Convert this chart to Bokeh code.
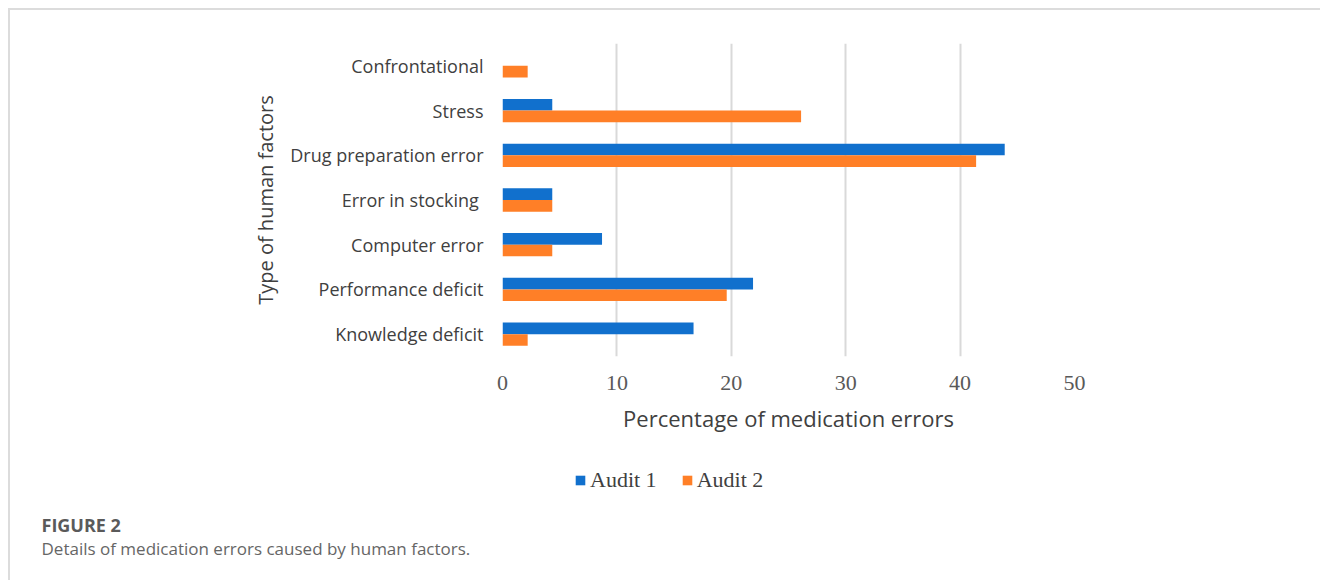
from bokeh.plotting import figure
from bokeh.layouts import column
from bokeh.models import (ColumnDataSource, FactorRange, Range1d, Legend, LegendItem,
                          Label, FixedTicker)
from bokeh.transform import dodge
from bokeh.embed import file_html
from bokeh.resources import INLINE

categories = ["Knowledge deficit", "Performance deficit", "Computer error",
              "Error in stocking ", "Drug preparation error", "Stress", "Confrontational"]
audit1 = [16.7, 21.9, 8.7, 4.35, 43.9, 4.35, 0.0]
audit2 = [2.2, 19.6, 4.35, 4.35, 41.4, 26.1, 2.2]
x_ticks = [0, 10, 20, 30, 40, 50]
series_names = ["Audit 1", "Audit 2"]
caption_head = "FIGURE 2"
caption_text = "Details of medication errors caused by human factors."

BLUE = "#1170CD"
ORANGE = "#FF7F27"
SANS = "Open Sans"
SERIF = "Liberation Serif"

W = 1310
H1 = 440
H2 = 130

src = ColumnDataSource(dict(cat=categories, a1=audit1, a2=audit2))

p = figure(width=W, height=H1, output_backend="svg", toolbar_location=None,
           y_range=FactorRange(*categories), x_range=Range1d(0, 50),
           min_border_left=492, min_border_right=246, min_border_top=33,
           min_border_bottom=94)
p.frame_align = False
p.outline_line_color = None
p.border_fill_color = "white"

r1 = p.hbar(y=dodge("cat", 0.13, range=p.y_range), right="a1", left=0, height=0.26,
            source=src, fill_color=BLUE, line_color=None)
r2 = p.hbar(y=dodge("cat", -0.13, range=p.y_range), right="a2", left=0, height=0.26,
            source=src, fill_color=ORANGE, line_color=None)

p.ygrid.grid_line_color = None
p.xgrid.grid_line_color = "#d9d9d9"
p.xgrid.grid_line_width = 2
p.xaxis.ticker = FixedTicker(ticks=x_ticks)

for ax in (p.xaxis[0], p.yaxis[0]):
    ax.axis_line_color = None
    ax.major_tick_line_color = None
    ax.minor_tick_line_color = None
    ax.major_tick_out = 0
    ax.major_tick_in = 0
    ax.minor_tick_out = 0

p.yaxis.major_label_text_font = SANS
p.yaxis.major_label_text_font_size = "18px"
p.yaxis.major_label_text_color = "#404040"
p.yaxis.major_label_standoff = 19
p.yaxis.axis_label = "Type of human factors"
p.yaxis.axis_label_text_font = SANS
p.yaxis.axis_label_text_font_size = "20px"
p.yaxis.axis_label_text_font_style = "normal"
p.yaxis.axis_label_text_color = "#404040"
p.yaxis.axis_label_standoff = 8

p.xaxis.major_label_text_font = SERIF
p.xaxis.major_label_text_font_size = "22px"
p.xaxis.major_label_text_color = "#595959"
p.xaxis.major_label_standoff = 19
p.xaxis.axis_label = "Percentage of medication errors"
p.xaxis.axis_label_text_font = SANS
p.xaxis.axis_label_text_font_size = "22px"
p.xaxis.axis_label_text_font_style = "normal"
p.xaxis.axis_label_text_color = "#404040"
p.xaxis.axis_label_standoff = 10

# lower panel: legend and caption
p2 = figure(width=W, height=H2, output_backend="svg", toolbar_location=None,
            x_range=Range1d(0, W), y_range=Range1d(0, H2),
            min_border=0, x_axis_type=None, y_axis_type=None)
p2.frame_align = False
p2.outline_line_color = None
p2.grid.grid_line_color = None
p2.border_fill_color = "white"

# legend proxies, kept outside the visible range of this panel
proxy = ColumnDataSource(dict(y=[-50], right=[1]))
e1 = p2.hbar(y="y", right="right", left=0, height=1, source=proxy,
             fill_color=BLUE, line_color=None)
e2 = p2.hbar(y="y", right="right", left=0, height=1, source=proxy,
             fill_color=ORANGE, line_color=None)

legend = Legend(items=[LegendItem(label=series_names[0], renderers=[e1]),
                       LegendItem(label=series_names[1], renderers=[e2])],
                location=(564, 87), orientation="horizontal",
                glyph_width=12, glyph_height=12, label_standoff=4, spacing=24,
                padding=0, margin=0, border_line_color=None,
                background_fill_alpha=0,
                label_text_font=SERIF, label_text_font_size="22px",
                label_text_color="#404040")
p2.add_layout(legend, "center")

p2.add_layout(Label(x=31, y=44, text=caption_head, text_font=SANS,
                    text_font_size="18px", text_font_style="bold",
                    text_color="#5a5a5a"))
p2.add_layout(Label(x=31, y=21, text=caption_text,
                    text_font=SANS, text_font_size="17px", text_color="#666666"))

layout = column(p, p2, spacing=0,
                styles={"margin-left": "8px", "margin-top": "8px",
                        "border-top": "2px solid #dcdcdc",
                        "border-left": "2px solid #dcdcdc"})

open("out.html", "w").write(file_html(layout, INLINE))
